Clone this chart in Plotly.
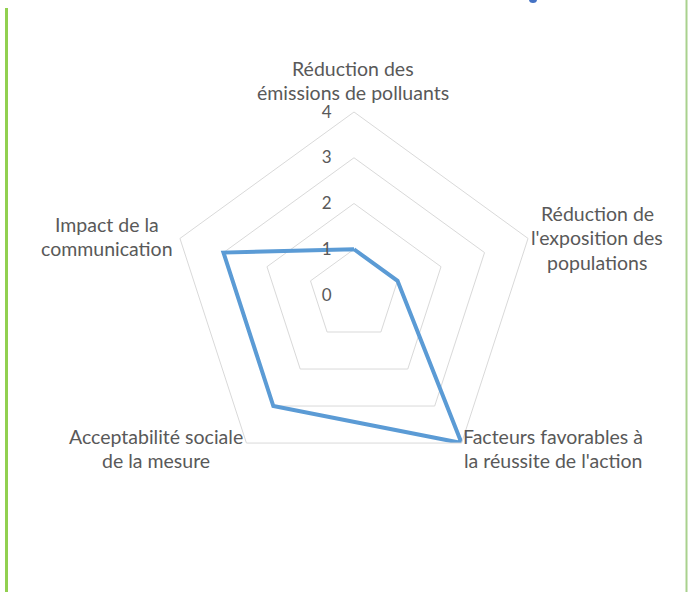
import plotly.graph_objects as go

categories = [
    "Réduction des émissions de polluants",
    "Réduction de l'exposition des populations",
    "Facteurs favorables à la réussite de l'action",
    "Acceptabilité sociale de la mesure",
    "Impact de la communication",
]
label_lines = [
    ["Réduction des", "émissions de polluants"],
    ["Réduction de", "l'exposition des", "populations"],
    ["Facteurs favorables à", "la réussite de l'action"],
    ["Acceptabilité sociale", "de la mesure"],
    ["Impact de la", "communication"],
]
values = [1, 1, 4, 3, 3]
radial_ticks = [0, 1, 2, 3, 4]

W, H = 688, 592
cx, cy, R = 354, 295, 183

fig = go.Figure()
fig.add_trace(go.Scatterpolar(
    r=values + values[:1],
    theta=categories + categories[:1],
    mode="lines",
    line=dict(color="#5B9BD5", width=4),
    hoverinfo="skip",
))

# category label centres (px): x centre, y of first line
label_pos = [(353, 68), (597, 213), (553, 436), (156, 436), (107, 224)]
line_gap = 24.5
annotations = []
for lines, (lx, ly) in zip(label_lines, label_pos):
    for i, txt in enumerate(lines):
        annotations.append(dict(
            xref="paper", yref="paper", x=lx / W, y=1 - (ly + i * line_gap) / H,
            text=txt, showarrow=False, xanchor="center", yanchor="middle",
            font=dict(size=19.5, color="#595959", family="Lato, sans-serif"),
        ))

fig.update_layout(
    width=W, height=H,
    margin=dict(l=0, r=0, t=0, b=0),
    paper_bgcolor="white",
    showlegend=False,
    font=dict(family="Lato, sans-serif", size=17, color="#595959"),
    polar=dict(
        domain=dict(x=[(cx - R) / W, (cx + R) / W], y=[(H - cy - R) / H, (H - cy + R) / H]),
        bgcolor="white",
        gridshape="linear",
        radialaxis=dict(
            range=[0, 4], tickvals=radial_ticks, ticktext=[str(v) for v in radial_ticks],
            angle=90, tickangle=90, side="counterclockwise",
            showline=False, ticks="outside", ticklen=16, tickcolor="rgba(0,0,0,0)",
            gridcolor="#D9D9D9", gridwidth=1,
            tickfont=dict(size=17, color="#595959"),
        ),
        angularaxis=dict(
            rotation=90, direction="clockwise",
            showgrid=False, linecolor="#D9D9D9", linewidth=1, ticks="",
            showticklabels=False,
        ),
    ),
    annotations=annotations,
    shapes=[
        dict(type="line", xref="paper", yref="paper", x0=6.5 / W, x1=6.5 / W,
             y0=0, y1=1 - 8 / H, line=dict(color="#92D050", width=3)),
        dict(type="line", xref="paper", yref="paper", x0=686.5 / W, x1=686.5 / W,
             y0=0, y1=1, line=dict(color="#A9D18E", width=2)),
        dict(type="circle", xref="paper", yref="paper", x0=529 / W, x1=537 / W,
             y0=1 - 3 / H, y1=1 + 4 / H, fillcolor="#4472C4", line=dict(width=0)),
    ],
)

fig.write_html("out.html")
